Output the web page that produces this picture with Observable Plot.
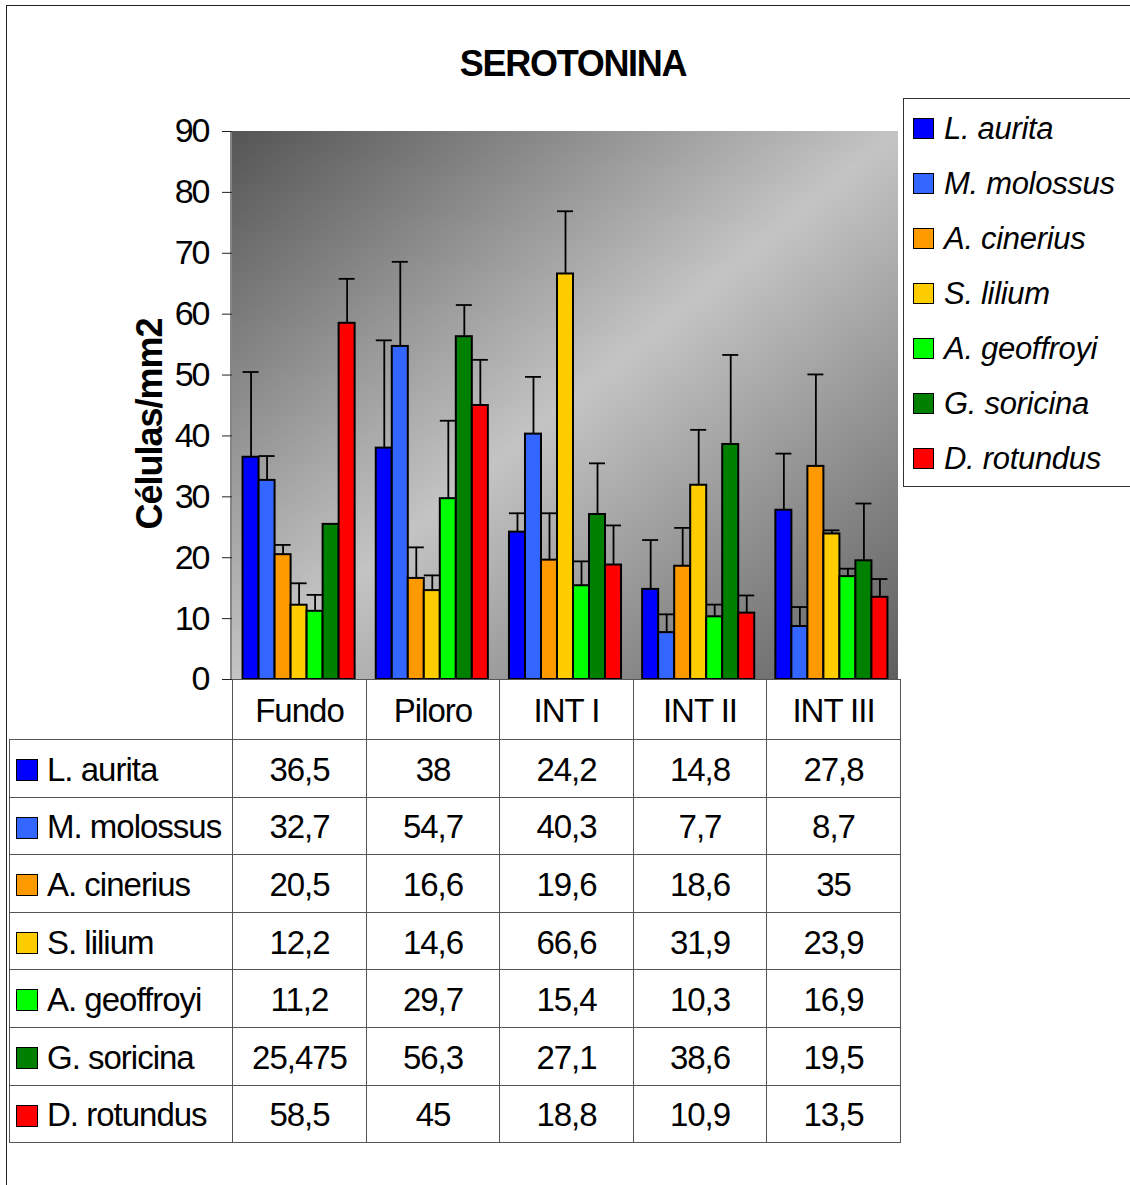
<!DOCTYPE html>
<html><head><meta charset="utf-8">
<script src="https://cdn.jsdelivr.net/npm/d3@7"></script>
<script src="https://cdn.jsdelivr.net/npm/@observablehq/plot@0.6"></script>
<style>
html,body{margin:0;padding:0;background:#fff;overflow:hidden;}
#wrap{position:relative;width:1130px;height:1185px;overflow:hidden;font-family:"Liberation Sans",Arial,sans-serif;color:#000;}
#border{position:absolute;left:6px;top:5px;width:1300px;height:1400px;border:1.5px solid #222;box-sizing:border-box;}
#title{position:absolute;left:0;width:1146px;top:44px;height:40px;line-height:40px;text-align:center;font-weight:bold;font-size:36px;letter-spacing:-1.3px;}
#ylabel{position:absolute;left:0;width:300px;top:404px;height:40px;line-height:40px;text-align:center;font-weight:bold;font-size:36px;letter-spacing:-1px;transform:rotate(-90deg);}
#chart{position:absolute;left:0;top:0;}
#chart svg text{letter-spacing:-2px;}
#legend{position:absolute;left:903px;top:98px;width:260px;height:389px;border:1px solid #333;background:#fff;box-sizing:border-box;padding-top:2px;}
.li{height:55px;display:flex;align-items:center;padding-left:9px;font-style:italic;font-size:31px;letter-spacing:-0.3px;white-space:nowrap;}
.sw{display:inline-block;width:19px;height:19px;border:1px solid #000;margin-right:10px;flex:none;}
#tbl{position:absolute;left:9px;top:679px;border-collapse:collapse;table-layout:fixed;width:891px;}
#tbl td{border:1px solid #555;padding:3px 0 0 0;text-align:center;font-size:33px;letter-spacing:-1px;white-space:nowrap;overflow:hidden;}
#tbl td.lab{text-align:left;padding-left:6px;}
#tbl td.lab .sw{vertical-align:middle;margin-right:9px;position:relative;top:-2px;width:20px;height:20px;}
#tbl tr.hd td{height:56px;}
#tbl tr.rw td{height:53.6px;}
#tbl td.blank{border-top:none;border-left:none;}
</style></head><body>
<div id="wrap">
  <div id="border"></div>
  <div id="title">SEROTONINA</div>
  <div id="ylabel">Células/mm2</div>
  <div id="chart"></div>
  <div id="legend"></div>
</div>
<script>
const categories = ["Fundo", "Piloro", "INT I", "INT II", "INT III"];
const species = ["L. aurita", "M. molossus", "A. cinerius", "S. lilium", "A. geoffroyi", "G. soricina", "D. rotundus"];
const tableNames = ["L. aurita", "M. molossus", "A. cinerius", "S. lilium", "A. geoffroyi", "G. soricina", "D. rotundus"];
const colors = ["#0000ff", "#3366ff", "#ff9900", "#ffcc00", "#00ff00", "#008000", "#ff0000"];
const yTicks = [0, 10, 20, 30, 40, 50, 60, 70, 80, 90];

// mean values per species (Fundo, Piloro, INT I, INT II, INT III)
const lAurita    = [36.5, 38, 24.2, 14.8, 27.8];
const mMolossus  = [32.7, 54.7, 40.3, 7.7, 8.7];
const aCinerius  = [20.5, 16.6, 19.6, 18.6, 35];
const sLilium    = [12.2, 14.6, 66.6, 31.9, 23.9];
const aGeoffroyi = [11.2, 29.7, 15.4, 10.3, 16.9];
const gSoricina  = [25.475, 56.3, 27.1, 38.6, 19.5];
const dRotundus  = [58.5, 45, 18.8, 10.9, 13.5];

// upper error bars
const errLAurita    = [14, 17.7, 3.1, 8.1, 9.3];
const errMMolossus  = [4, 13.9, 9.4, 3, 3.2];
const errACinerius  = [1.6, 5.1, 7.7, 6.3, 15.1];
const errSLilium    = [3.6, 2.5, 10.3, 9.1, 0.6];
const errAGeoffroyi = [2.7, 12.8, 4, 2, 1.3];
const errGSoricina  = [0, 5.2, 8.4, 14.7, 9.4];
const errDRotundus  = [7.3, 7.5, 6.5, 2.9, 3];

const values = [lAurita, mMolossus, aCinerius, sLilium, aGeoffroyi, gSoricina, dRotundus];
const errors = [errLAurita, errMMolossus, errACinerius, errSLilium, errAGeoffroyi, errGSoricina, errDRotundus];

const data = [];
species.forEach((s, i) => categories.forEach((c, j) => data.push({cat: c, sp: s, v: values[i][j], e: errors[i][j]})));
const errData = data.filter(d => d.e > 0);

const chart = Plot.plot({
  width: 900, height: 681,
  marginTop: 131, marginBottom: 2, marginLeft: 232, marginRight: 2,
  style: {fontFamily: '"Liberation Sans", Arial, sans-serif', background: "transparent", overflow: "visible", color: "#000"},
  fx: {domain: categories, padding: 0, axis: null, round: false},
  x: {domain: species, paddingInner: 0, paddingOuter: 0.66, axis: null, round: false},
  y: {domain: [0, 90]},
  color: {domain: species, range: colors},
  marks: [
    Plot.axisY({ticks: yTicks, tickSize: 10, tickPadding: 14, fontSize: 34, label: null, stroke: "#222"}),
    Plot.barY(data, {fx: "cat", x: "sp", y: "v", fill: "sp", stroke: "#000", strokeWidth: 2}),
    Plot.ruleX(errData, {fx: "cat", x: "sp", y1: "v", y2: d => d.v + d.e, stroke: "#000", strokeWidth: 1.8}),
    Plot.tickY(errData, {fx: "cat", x: "sp", y: d => d.v + d.e, stroke: "#000", strokeWidth: 1.8})
  ]
});

// gradient background of plot area
const svg = d3.select(chart);
const ys = chart.scale("y"), fxs = chart.scale("fx");
const yTop = ys.apply(90), yBot = ys.apply(0);
const xL = fxs.range[0], xR = fxs.range[1];
const grad = svg.insert("defs", ":first-child").append("linearGradient")
  .attr("id", "bggrad").attr("x1", 0).attr("y1", 0).attr("x2", 1).attr("y2", 1);
grad.append("stop").attr("offset", 0).attr("stop-color", "#555555");
grad.append("stop").attr("offset", 0.5).attr("stop-color", "#c4c4c4");
grad.append("stop").attr("offset", 1).attr("stop-color", "#5e5e5e");
svg.insert("rect", "g").attr("x", xL).attr("y", yTop).attr("width", xR - xL).attr("height", yBot - yTop).attr("fill", "url(#bggrad)");
svg.append("line").attr("x1", xL - 1).attr("x2", xL - 1).attr("y1", yTop).attr("y2", yBot).attr("stroke", "#333").attr("stroke-width", 1.2);
document.getElementById("chart").appendChild(chart);

// legend
const legend = d3.select("#legend");
species.forEach((s, i) => {
  const it = legend.append("div").attr("class", "li");
  it.append("span").attr("class", "sw").style("background", colors[i]);
  it.append("span").text(s);
});

// data table
const fmt = v => String(v).replace(".", ",");
const tbl = d3.select("#wrap").append("table").attr("id", "tbl");
const cg = tbl.append("colgroup");
[223, 134, 133, 134, 133, 134].forEach(w => cg.append("col").style("width", w + "px"));
const hd = tbl.append("tr").attr("class", "hd");
hd.append("td").attr("class", "blank");
categories.forEach(c => hd.append("td").text(c));
tableNames.forEach((s, i) => {
  const tr = tbl.append("tr").attr("class", "rw");
  const lab = tr.append("td").attr("class", "lab");
  lab.append("span").attr("class", "sw").style("background", colors[i]);
  lab.append("span").text(s);
  values[i].forEach(v => tr.append("td").text(fmt(v)));
});
</script>
</body></html>
